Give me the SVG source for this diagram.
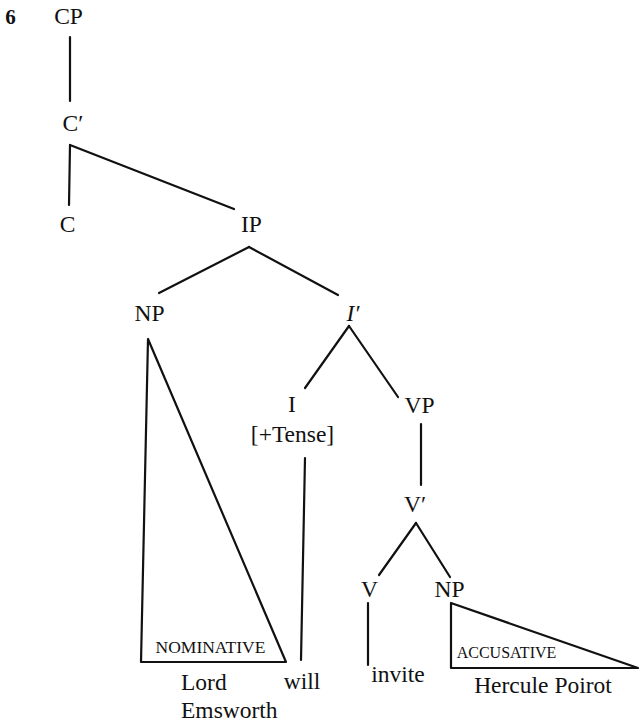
<svg xmlns="http://www.w3.org/2000/svg" width="639" height="724" viewBox="0 0 639 724">
<style>
text{font-family:"Liberation Serif","DejaVu Serif",serif;font-size:23.5px;fill:#111;text-anchor:middle}
.sc{font-size:17.5px}
.l{stroke:#111;stroke-width:2.2;fill:none;stroke-linecap:round;stroke-linejoin:round}
</style>
<rect width="639" height="724" fill="#fff"/>
<text x="10.5" y="24" font-weight="bold" style="font-size:21px">6</text>
<g id="connectors">
<line class="l" x1="70" y1="37" x2="70" y2="101"/>
<line class="l" x1="70" y1="145" x2="69" y2="205"/>
<line class="l" x1="70" y1="145" x2="234" y2="209"/>
<line class="l" x1="249" y1="247" x2="159" y2="293"/>
<line class="l" x1="249" y1="247" x2="338" y2="295"/>
<line class="l" x1="349" y1="326" x2="305" y2="388"/>
<line class="l" x1="349" y1="326" x2="398" y2="397"/>
<line class="l" x1="305" y1="458" x2="301" y2="660"/>
<line class="l" x1="421" y1="424" x2="421" y2="485"/>
<line class="l" x1="416" y1="523" x2="379" y2="575"/>
<line class="l" x1="416" y1="523" x2="450" y2="577"/>
<line class="l" x1="368" y1="603" x2="368" y2="665"/>
</g>
<g id="CP"><text x="68.5" y="24">CP</text></g>
<g id="Cbar"><text x="73" y="131">C′</text></g>
<g id="C"><text x="67.5" y="232">C</text></g>
<g id="IP"><text x="251.5" y="232">IP</text></g>
<g id="NP1"><text x="149.5" y="321">NP</text>
<polygon class="l" points="148,339 141,662 286,662"/>
<text class="sc" x="210.5" y="653">NOMINATIVE</text>
<text x="181" y="690" style="text-anchor:start">Lord</text>
<text x="181" y="718" style="text-anchor:start">Emsworth</text></g>
<g id="Ibar"><text x="353" y="321" font-style="italic">I′</text></g>
<g id="I"><text x="292" y="412">I</text><text x="292.5" y="442">[+Tense]</text></g>
<g id="will"><text x="302" y="689">will</text></g>
<g id="VP"><text x="419.5" y="413">VP</text></g>
<g id="Vbar"><text x="415" y="512">V′</text></g>
<g id="V"><text x="369.5" y="597">V</text></g>
<g id="invite"><text x="398" y="682">invite</text></g>
<g id="NP2"><text x="449.5" y="597">NP</text>
<polygon class="l" points="451,603 451,668 638,668"/>
<text class="sc" x="506.5" y="658" style="font-size:16px">ACCUSATIVE</text>
<text x="543" y="693">Hercule Poirot</text></g>
</svg>
